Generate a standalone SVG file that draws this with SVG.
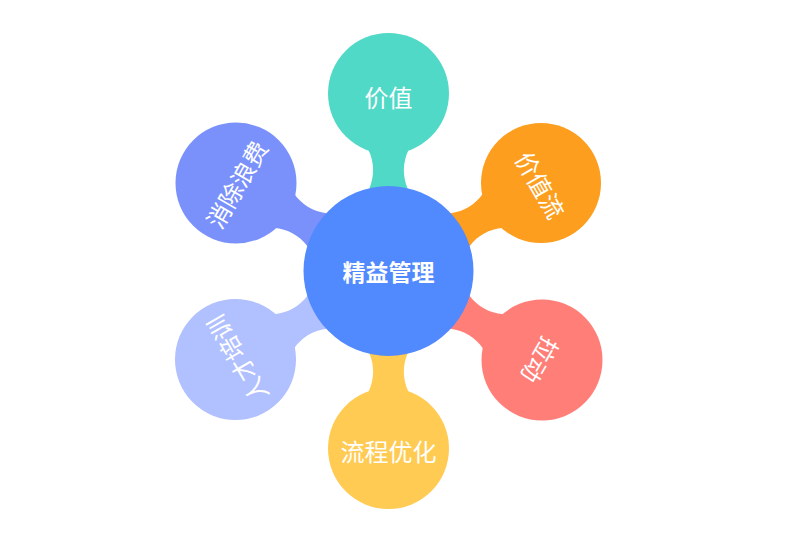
<svg xmlns="http://www.w3.org/2000/svg" width="786" height="539" viewBox="0 0 786 539">
<style>
.t{font-family:"Noto Sans CJK SC","Noto Sans",sans-serif;fill:#fff;text-anchor:middle;dominant-baseline:central;font-size:24px}
.c{font-weight:bold;font-size:23px}
</style>
<defs>
<path id="neck" d="M60,-26 L82.8,-19 C95,-14 108,-14 120.9,-20 L140,-22 L140,22 L120.9,20 C108,14 95,14 82.8,19 L60,26 Z"/>
</defs>
<rect width="786" height="539" fill="#fff"/>
<g id="connectors" transform="translate(388.5,271)">
<use href="#neck" fill="#50D9C6" transform="rotate(-90)"/>
<use href="#neck" fill="#FD9E1E" transform="rotate(-30)"/>
<use href="#neck" fill="#FF7E78" transform="rotate(30)"/>
<use href="#neck" fill="#FFCB52" transform="rotate(90)"/>
<use href="#neck" fill="#B1C0FE" transform="rotate(150)"/>
<use href="#neck" fill="#7A91FB" transform="rotate(210)"/>
</g>
<g id="n-top">
<circle cx="388.5" cy="93.5" r="60.5" fill="#50D9C6"/>
<text class="t" x="388.5" y="96">价值</text>
</g>
<g id="n-tr">
<circle cx="541" cy="183" r="60" fill="#FD9E1E"/>
<text class="t" transform="translate(541,184.5) rotate(60)">价值流</text>
</g>
<g id="n-br">
<circle cx="542" cy="360" r="60.5" fill="#FF7E78"/>
<text class="t" transform="translate(541,360.5) rotate(120)">拉动</text>
</g>
<g id="n-bottom">
<circle cx="388.5" cy="448.5" r="60.5" fill="#FFCB52"/>
<text class="t" x="388.5" y="450">流程优化</text>
</g>
<g id="n-bl">
<circle cx="235.5" cy="359.5" r="60.5" fill="#B1C0FE"/>
<text class="t" transform="translate(236.5,359.5) rotate(240)">人才培训</text>
</g>
<g id="n-tl">
<circle cx="236" cy="183" r="60.5" fill="#7A91FB"/>
<text class="t" transform="translate(236,184) rotate(-60)">消除浪费</text>
</g>
<g id="n-center">
<circle cx="388.5" cy="271" r="85" fill="#5189FE"/>
<text class="t c" x="388.5" y="271">精益管理</text>
</g>
</svg>
